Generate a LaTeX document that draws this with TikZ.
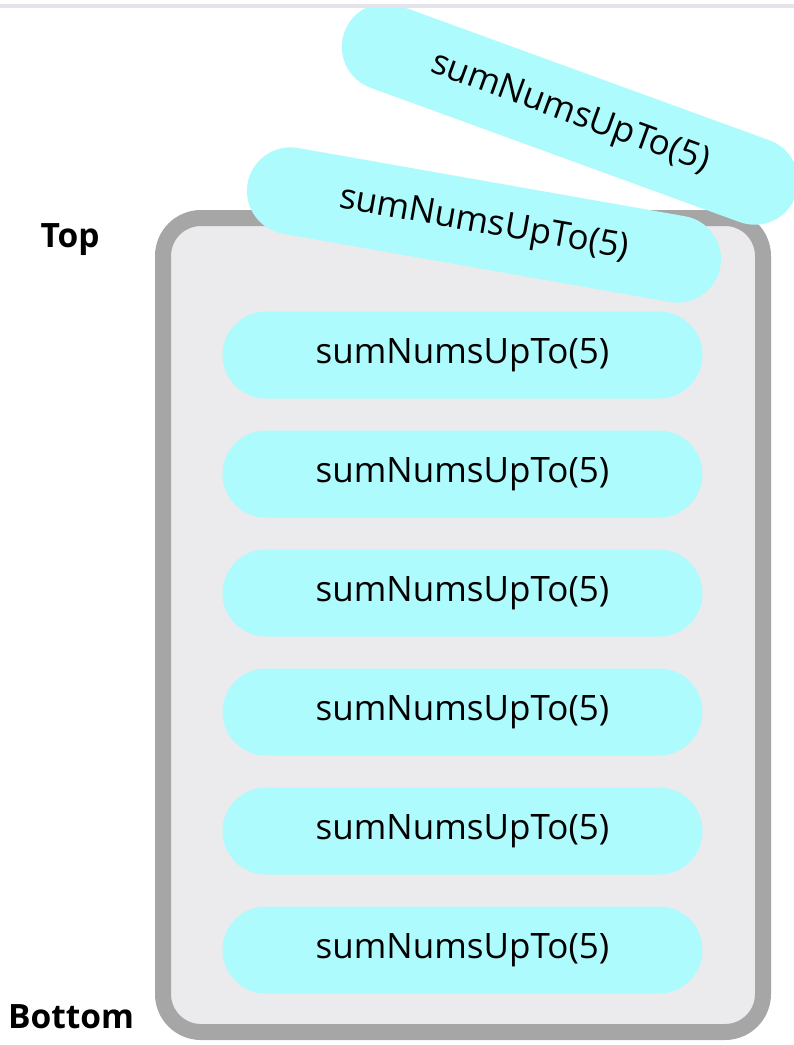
\documentclass[tikz,border=0pt]{standalone}
\usepackage{fontspec}
\setmainfont{Open Sans}
\begin{document}
\begin{tikzpicture}[x=1pt,y=-1pt,
  pill/.style={rectangle, fill=pillcyan, minimum width=480pt, minimum height=87pt,
    rounded corners=43.5pt, inner sep=0pt, text=black, font=\fontsize{35}{42}\selectfont},
  stacklabel/.style={font=\fontsize{33.5}{40}\selectfont\bfseries, text=black, inner sep=0pt},
  stackbox/.style={rectangle, draw=boxgray, fill=boxfill, line width=16pt,
    minimum width=600pt, minimum height=814pt, rounded corners=38pt}]
\definecolor{pillcyan}{HTML}{AEFBFD}
\definecolor{boxgray}{HTML}{A6A6A6}
\definecolor{boxfill}{HTML}{EBEBED}
\definecolor{topline}{HTML}{E4E4EA}
\useasboundingbox (0,0) rectangle (794,1045);
\fill[white] (0,0) rectangle (794,1045);
\fill[topline] (0,4) rectangle (794,7.5);
\begin{scope}
\clip (0,7.5) rectangle (794,1045);
\node[stackbox] (stack) at (463,625) {};
\node[pill] (p1) at (462.5,355) {sumNumsUpTo(5)};
\node[pill] (p2) at (462.5,474) {sumNumsUpTo(5)};
\node[pill] (p3) at (462.5,593) {sumNumsUpTo(5)};
\node[pill] (p4) at (462.5,712) {sumNumsUpTo(5)};
\node[pill] (p5) at (462.5,831) {sumNumsUpTo(5)};
\node[pill] (p6) at (462.5,950) {sumNumsUpTo(5)};
\node[pill, rotate=-10] (pa) at (484,225) {sumNumsUpTo(5)};
\node[pill, rotate=-20] (pb) at (570,114) {sumNumsUpTo(5)};
\end{scope}
\node[stacklabel] (toplbl) at (70,240) {Top};
\node[stacklabel] (botlbl) at (71,1017) {Bottom};
\end{tikzpicture}
\end{document}
